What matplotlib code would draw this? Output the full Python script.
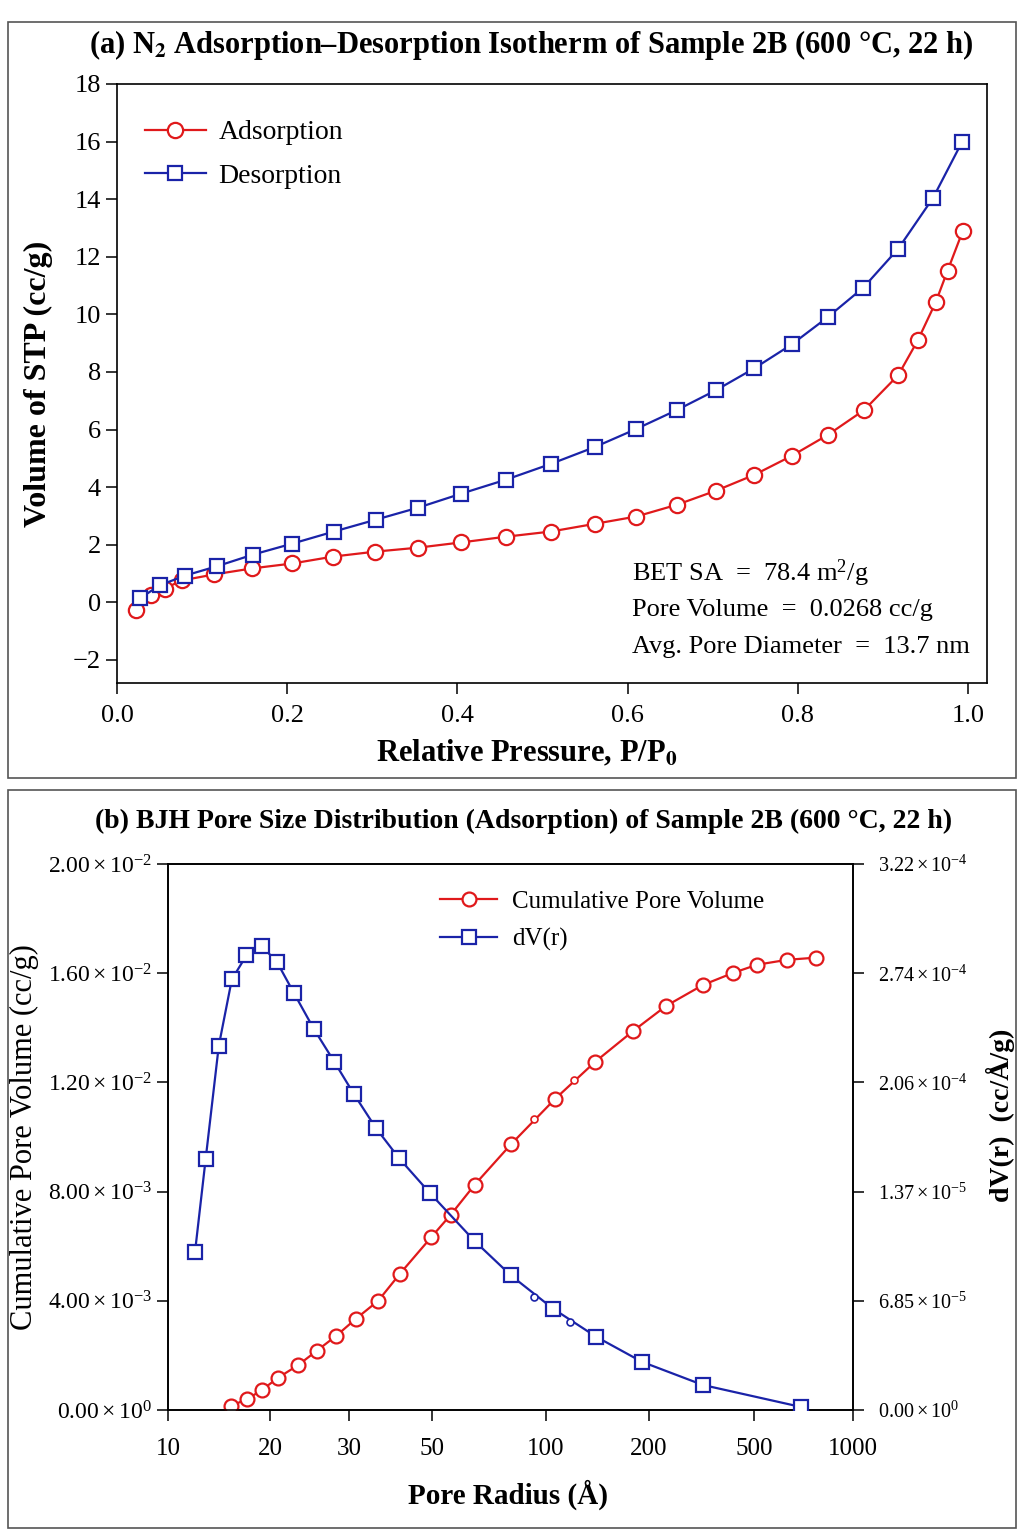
import numpy as np
import matplotlib
matplotlib.use('Agg')
import matplotlib.pyplot as plt
from matplotlib.patches import Rectangle

plt.rcParams['font.family'] = ['Liberation Serif', 'DejaVu Serif']
plt.rcParams['mathtext.fontset'] = 'stix'
plt.rcParams['mathtext.default'] = 'regular'

RED = '#e0191b'
BLUE = '#1a23a8'

# (a) N2 isotherm: relative pressure and adsorbed volume (cc/g)
ads_p = [0.022, 0.040, 0.056, 0.076, 0.114, 0.159, 0.206, 0.254, 0.303, 0.354,
         0.404, 0.457, 0.510, 0.562, 0.610, 0.658, 0.704, 0.749, 0.793, 0.835,
         0.878, 0.918, 0.941, 0.962, 0.976, 0.994]
ads_v = [-0.28, 0.24, 0.48, 0.76, 0.97, 1.18, 1.35, 1.59, 1.76, 1.90,
         2.08, 2.28, 2.46, 2.73, 2.98, 3.39, 3.88, 4.43, 5.09, 5.81,
         6.68, 7.89, 9.10, 10.42, 11.52, 12.91]
des_p = [0.027, 0.050, 0.080, 0.117, 0.160, 0.206, 0.255, 0.304, 0.354, 0.404,
         0.457, 0.510, 0.562, 0.610, 0.658, 0.704, 0.749, 0.793, 0.835, 0.877,
         0.918, 0.959, 0.993]
des_v = [0.14, 0.59, 0.93, 1.25, 1.66, 2.04, 2.46, 2.87, 3.29, 3.77,
         4.26, 4.81, 5.40, 6.02, 6.68, 7.37, 8.13, 8.96, 9.90, 10.93,
         12.28, 14.05, 15.99]

stats = ['BET SA  =  78.4 m$^{2}$/g',
         'Pore Volume  =  0.0268 cc/g',
         'Avg. Pore Diameter  =  13.7 nm']

# (b) BJH pore size distribution
cum_r = [15.3, 17.1, 18.9, 20.8, 23.1, 25.4, 28.1, 31.3, 35.9, 41.1,
         49.7, 56.1, 64.9, 80.8, 106.2, 139.1, 179.6, 232.0, 320.4, 416.3,
         510.5, 630.0, 772.0]
cum_v = [1.5e-4, 4.0e-4, 7.4e-4, 1.18e-3, 1.65e-3, 2.17e-3, 2.72e-3, 3.34e-3, 4.00e-3, 5.00e-3,
         6.32e-3, 7.16e-3, 8.26e-3, 9.73e-3, 1.139e-2, 1.275e-2, 1.388e-2, 1.480e-2, 1.557e-2, 1.601e-2,
         1.631e-2, 1.649e-2, 1.657e-2]
dv_r = [12.0, 12.9, 14.1, 15.4, 17.0, 18.9, 20.7, 22.6, 25.0, 27.8,
        30.9, 35.4, 40.8, 49.4, 64.9, 80.8, 104.8, 140.0, 190.8, 320.0, 695.0]
dv_v = [9.88e-5, 1.574e-4, 2.285e-4, 2.701e-4, 2.852e-4, 2.909e-4, 2.808e-4, 2.613e-4, 2.392e-4, 2.185e-4,
        1.983e-4, 1.769e-4, 1.580e-4, 1.360e-4, 1.058e-4, 8.44e-5, 6.36e-5, 4.60e-5, 3.02e-5, 1.57e-5, 1.9e-6]
# stray half-size points that sit on the curves
cum_r_small = [93.0, 120.7]
cum_v_small = [1.065e-2, 1.208e-2]
dv_r_small = [93.0, 117.5]
dv_v_small = [7.11e-5, 5.54e-5]

x_ticks_b = [10, 20, 30, 50, 100, 200, 500, 1000]
left_ticks_b = [0, 4e-3, 8e-3, 1.2e-2, 1.6e-2, 2e-2]
left_labels_b = [r'$0.00\times10^{0}$', r'$4.00\times10^{-3}$', r'$8.00\times10^{-3}$',
                 r'$1.20\times10^{-2}$', r'$1.60\times10^{-2}$', r'$2.00\times10^{-2}$']
right_labels_b = [r'$0.00\times10^{0}$', r'$6.85\times10^{-5}$', r'$1.37\times10^{-5}$',
                  r'$2.06\times10^{-4}$', r'$2.74\times10^{-4}$', r'$3.22\times10^{-4}$']
dv_top = 3.425e-4

# the radius axis in the original is not a true log axis: tick spacing
scale_frac = [0.0, 0.1496, 0.2642, 0.3854, 0.5518, 0.7022, 0.8555, 1.0]
lt = np.log10(x_ticks_b)
lt_ext = np.concatenate([[0.0], lt, [4.0]])
fr_ext = np.concatenate([[-0.497], scale_frac, [1.48]])


def fwd(x):
    x = np.clip(np.asarray(x, dtype=float), 1e-3, None)
    return np.interp(np.log10(x), lt_ext, fr_ext)


def inv(y):
    return 10 ** np.interp(np.asarray(y, dtype=float), fr_ext, lt_ext)


fig = plt.figure(figsize=(10.24, 15.36), dpi=100)

# panel frames
for y0, y1 in [(22, 778), (790, 1528)]:
    fig.patches.append(Rectangle((8 / 1024, 1 - y1 / 1536), 1008 / 1024, (y1 - y0) / 1536,
                                 transform=fig.transFigure, fill=False,
                                 edgecolor='#555555', linewidth=1.2))

# ---- panel (a)
ax = fig.add_axes([117 / 1024, 1 - 683 / 1536, 870 / 1024, 599 / 1536])
ax.plot(ads_p, ads_v, color=RED, lw=1.6, marker='o', ms=11, mfc='white',
        mec=RED, mew=1.6, label='Adsorption', zorder=3)
ax.plot(des_p, des_v, color=BLUE, lw=1.6, marker='s', ms=10, mfc='white',
        mec=BLUE, mew=1.6, label='Desorption', zorder=4)
ax.set_xlim(0, 1.0223)
ax.set_ylim(-2.8, 18)
ax.set_xticks(np.arange(0, 1.01, 0.2))
ax.set_xticklabels([f'{v:.1f}' for v in np.arange(0, 1.01, 0.2)])
ax.set_yticks(np.arange(-2, 19, 2))
ax.tick_params(direction='out', length=8, width=1.1, labelsize=19, top=False, right=False)
ax.tick_params(axis='x', pad=8)
for s in ax.spines.values():
    s.set_linewidth(1.2)
ax.set_ylabel('Volume of STP (cc/g)', fontsize=23, fontweight='bold')
ax.yaxis.set_label_coords(-0.074, 0.5)
ax.set_xlabel('Relative Pressure, P/P$_\\mathbf{0}$', fontsize=22, fontweight='bold')
ax.xaxis.set_label_coords(0.471, -0.093)
ax.legend(loc='upper left', bbox_to_anchor=(0.032, 0.94), frameon=False, fontsize=20,
          borderpad=0, borderaxespad=0, handlelength=2.2, handletextpad=0.45, labelspacing=0.65)
for i, s in enumerate(stats):
    ax.text(0.592, 0.184 - i * 0.0618, s, transform=ax.transAxes, fontsize=19, va='center')

fig.text(531 / 1024, 1 - 45 / 1536,
         '(a) N$_\\mathbf{2}$ Adsorption\u2013Desorption Isotherm of Sample 2B (600 °C, 22 h)',
         ha='center', va='center', fontsize=22, fontweight='bold')

# ---- panel (b)
bx = fig.add_axes([168 / 1024, 1 - 1410 / 1536, 685 / 1024, 546 / 1536])
bx.set_xscale('function', functions=(fwd, inv))
l1, = bx.plot(cum_r, cum_v, color=RED, lw=1.6, marker='o', ms=10, mfc='white',
              mec=RED, mew=1.6, label='Cumulative Pore Volume', zorder=3)
bx.plot(cum_r_small, cum_v_small, ls='none', marker='o', ms=5, mfc='white', mec=RED, mew=1.2, zorder=3)
bx.set_xlim(10, 1000)
bx.set_ylim(0, 2e-2)
bx.set_xticks(x_ticks_b)
bx.set_xticklabels([str(v) for v in x_ticks_b])
bx.xaxis.set_minor_locator(matplotlib.ticker.NullLocator())
bx.set_yticks(left_ticks_b)
bx.set_yticklabels(left_labels_b)
bx.tick_params(direction='out', length=8, width=1.1, labelsize=18, top=False, right=False)
bx.tick_params(axis='x', pad=12)
bx.tick_params(axis='y', labelsize=17)

bx2 = bx.twinx()
l2, = bx2.plot(dv_r, dv_v, color=BLUE, lw=1.6, marker='s', ms=9.5, mfc='white',
               mec=BLUE, mew=1.6, label='dV(r)', zorder=3)
bx2.plot(dv_r_small, dv_v_small, ls='none', marker='o', ms=5, mfc='white', mec=BLUE, mew=1.2, zorder=3)
bx2.set_ylim(0, dv_top)
bx2.set_yticks(np.linspace(0, dv_top, 6))
bx2.set_yticklabels(right_labels_b)
bx2.tick_params(direction='out', length=8, width=1.1, labelsize=14.5, pad=10)
for a in (bx, bx2):
    for s in a.spines.values():
        s.set_linewidth(1.2)

bx.set_ylabel('Cumulative Pore Volume (cc/g)', fontsize=22)
bx.yaxis.set_label_coords(-0.188, 0.5)
bx2.set_ylabel('dV(r)  (cc/Å/g)', fontsize=20, fontweight='bold')
bx2.yaxis.set_label_coords(1.194, 0.54)
bx.set_xlabel('Pore Radius (Å)', fontsize=21, fontweight='bold')
bx.xaxis.set_label_coords(0.497, -0.128)
bx.legend([l1, l2], ['Cumulative Pore Volume', 'dV(r)'], loc='upper left',
          bbox_to_anchor=(0.397, 0.952), frameon=False, fontsize=18, borderpad=0,
          borderaxespad=0, handlelength=2.3, handletextpad=0.6, labelspacing=0.62)

fig.text(524 / 1024, 1 - 821 / 1536,
         '(b) BJH Pore Size Distribution (Adsorption) of Sample 2B (600 °C, 22 h)',
         ha='center', va='center', fontsize=20, fontweight='bold')

fig.savefig('out.png', dpi=100, facecolor='white')
